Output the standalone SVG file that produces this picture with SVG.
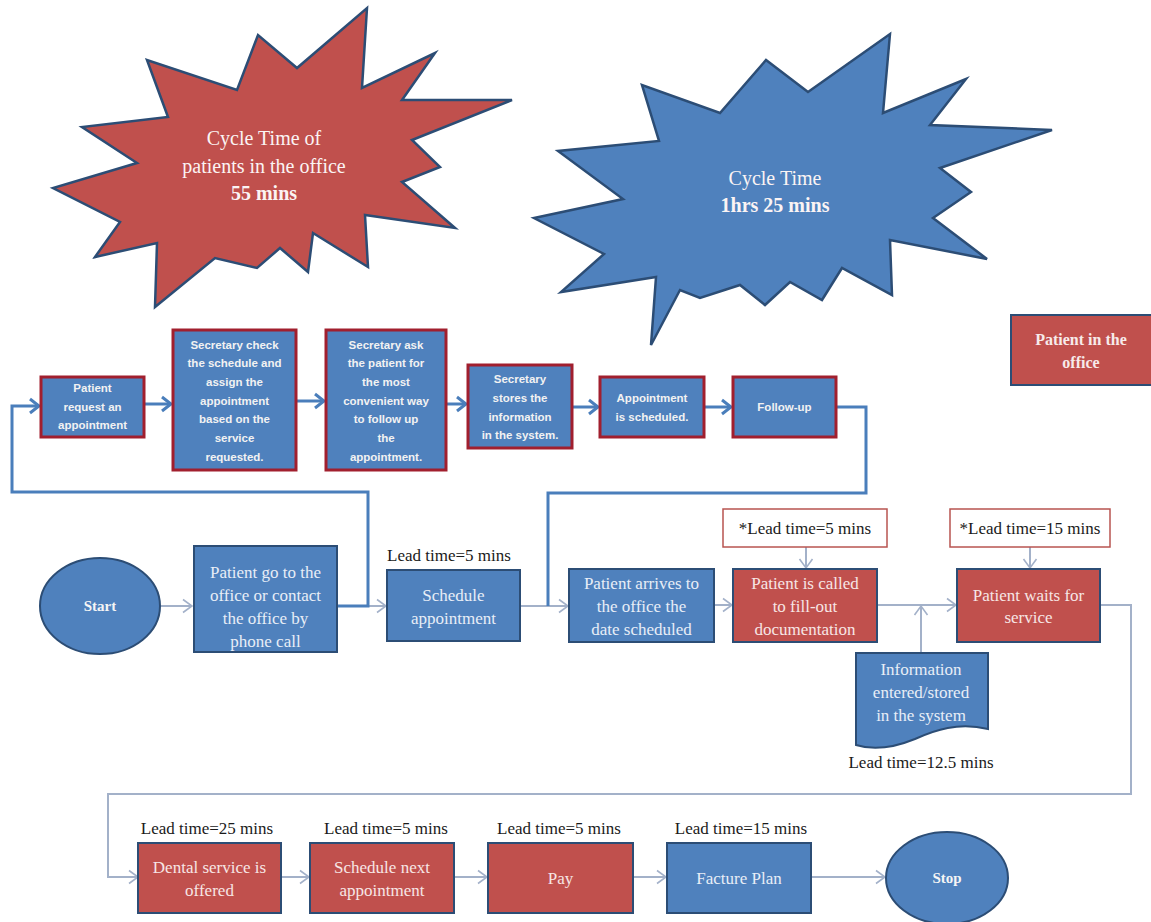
<svg xmlns="http://www.w3.org/2000/svg" width="1151" height="922" viewBox="0 0 1151 922">
<style>
.tb{fill:#4f81bd;stroke:#a11f2e;stroke-width:3}
.bb{fill:#4f81bd;stroke:#2c4d75;stroke-width:2}
.rb{fill:#c0504d;stroke:#2c4d75;stroke-width:2}
.lb{fill:#fff;stroke:#b85450;stroke-width:1.5}
.st{stroke:#2c4d75;stroke-width:2.5;stroke-linejoin:miter}
.t1{font-family:"Liberation Sans",Arial,sans-serif;font-weight:bold;font-size:11.5px;fill:#f2f2f2;text-anchor:middle}
.t2{font-family:"Liberation Serif","Times New Roman",serif;font-size:17px;fill:#e8eef7;text-anchor:middle}
.t2r{font-family:"Liberation Serif","Times New Roman",serif;font-size:17px;fill:#f7e6e5;text-anchor:middle}
.t3{font-family:"Liberation Serif","Times New Roman",serif;font-size:17px;fill:#1a1a1a;text-anchor:middle}
.t4{font-family:"Liberation Serif","Times New Roman",serif;font-size:20px;fill:#fbf4f4;text-anchor:middle}
.t5{font-family:"Liberation Serif","Times New Roman",serif;font-size:15px;font-weight:bold;fill:#f5f5f5;text-anchor:middle}
.t6{font-family:"Liberation Serif","Times New Roman",serif;font-size:16px;font-weight:bold;fill:#f7eaea;text-anchor:middle}
.cb{fill:none;stroke:#4a7ebb;stroke-width:3}
.cg{fill:none;stroke:#a3b1c9;stroke-width:2}
</style>
<defs>
<marker id="ab" markerUnits="userSpaceOnUse" markerWidth="14" markerHeight="18" refX="11" refY="9" orient="auto"><path d="M2,2 L11,9 L2,16" fill="none" stroke="#4a7ebb" stroke-width="3"/></marker>
<marker id="ag" markerUnits="userSpaceOnUse" markerWidth="12" markerHeight="16" refX="10" refY="8" orient="auto"><path d="M1,1.5 L10,8 L1,14.5" fill="none" stroke="#a3b1c9" stroke-width="1.6"/></marker>
</defs>
<rect width="1151" height="922" fill="#ffffff"/>

<g id="star-red">
<polygon class="st" fill="#c0504d" points="367,8 362,88 435,53 402,100 512,100 412,140 440,167 402,182 455,228 365,215 368,267 313,233 308,272 280,248 257,268 215,258 155,307 157,243 95,257 120,222 53,188 137,163 82,127 168,117 147,60 237,90 258,35 297,68"/>
<text class="t4" x="264" y="145">Cycle Time of</text>
<text class="t4" x="264" y="173">patients in the office</text>
<text class="t4" x="264" y="200" font-weight="bold">55 mins</text>
</g>

<g id="star-blue">
<polygon class="st" fill="#4f81bd" points="890,34 883,113 966,79 930,125 1052,130 940,168 971,192 933,218 987,259 890,240 892,295 842,268 822,300 790,282 765,305 740,285 700,298 680,290 651,345 656,277 561,292 604,254 534,218 623,199 558,151 659,141 642,85 720,113 766,60 808,92"/>
<text class="t4" x="775" y="185">Cycle Time</text>
<text class="t4" x="775" y="212" font-weight="bold">1hrs 25 mins</text>
</g>

<g id="patient-in-office">
<rect class="rb" x="1011" y="315" width="141" height="70"/>
<text class="t6" x="1081" y="345">Patient in the</text>
<text class="t6" x="1081" y="368">office</text>
</g>

<g id="connectors">
<path class="cb" d="M144,404 H171" marker-end="url(#ab)"/>
<path class="cb" d="M296,401 H324" marker-end="url(#ab)"/>
<path class="cb" d="M446,404 H466" marker-end="url(#ab)"/>
<path class="cb" d="M572,407 H598" marker-end="url(#ab)"/>
<path class="cb" d="M704,407 H731" marker-end="url(#ab)"/>
<path class="cg" d="M161,606 H192" marker-end="url(#ag)"/>
<path class="cg" d="M337,606 H386" marker-end="url(#ag)"/>
<path class="cg" d="M520,606 H568" marker-end="url(#ag)"/>
<path class="cg" d="M714,605 H732" marker-end="url(#ag)"/>
<path class="cg" d="M806,547 V568" marker-end="url(#ag)"/>
<path class="cg" d="M877,605 H956" marker-end="url(#ag)"/>
<path class="cg" d="M921,653 V606" marker-end="url(#ag)"/>
<path class="cg" d="M1030,547 V568" marker-end="url(#ag)"/>
<path class="cg" d="M1100,605 H1131 V794 H108 V877 H138" marker-end="url(#ag)"/>
<path class="cg" d="M281,877 H309" marker-end="url(#ag)"/>
<path class="cg" d="M454,877 H487" marker-end="url(#ag)"/>
<path class="cg" d="M633,877 H666" marker-end="url(#ag)"/>
<path class="cg" d="M811,877 H885" marker-end="url(#ag)"/>
<path class="cb" d="M337,606 H368 V492 H12 V406 H39" marker-end="url(#ab)"/>
<path class="cb" d="M836,407 H866 V493 H548 V606"/>
</g>

<g id="n-request">
<rect class="tb" x="41" y="377" width="103" height="60"/>
<text class="t1" x="92.5" y="392">Patient</text>
<text class="t1" x="92.5" y="411">request an</text>
<text class="t1" x="92.5" y="429">appointment</text>
</g>
<g id="n-check">
<rect class="tb" x="173" y="330" width="123" height="140"/>
<text class="t1" x="234.5" y="349">Secretary  check</text>
<text class="t1" x="234.5" y="367">the schedule and</text>
<text class="t1" x="234.5" y="386">assign the</text>
<text class="t1" x="234.5" y="405">appointment</text>
<text class="t1" x="234.5" y="423">based on the</text>
<text class="t1" x="234.5" y="442">service</text>
<text class="t1" x="234.5" y="461">requested.</text>
</g>
<g id="n-ask">
<rect class="tb" x="326" y="330" width="120" height="140"/>
<text class="t1" x="386" y="349">Secretary ask</text>
<text class="t1" x="386" y="367">the patient for</text>
<text class="t1" x="386" y="386">the most</text>
<text class="t1" x="386" y="405">convenient way</text>
<text class="t1" x="386" y="423">to follow up</text>
<text class="t1" x="386" y="442">the</text>
<text class="t1" x="386" y="461">appointment.</text>
</g>
<g id="n-stores">
<rect class="tb" x="468" y="365" width="104" height="83"/>
<text class="t1" x="520" y="383">Secretary</text>
<text class="t1" x="520" y="402">stores the</text>
<text class="t1" x="520" y="421">information</text>
<text class="t1" x="520" y="439">in the system.</text>
</g>
<g id="n-scheduled">
<rect class="tb" x="600" y="377" width="104" height="60"/>
<text class="t1" x="652" y="402">Appointment</text>
<text class="t1" x="652" y="421">is scheduled.</text>
</g>
<g id="n-followup">
<rect class="tb" x="733" y="377" width="103" height="60"/>
<text class="t1" x="784.5" y="411">Follow-up</text>
</g>

<g id="n-start">
<ellipse class="bb" cx="100" cy="606" rx="60" ry="48"/>
<text class="t5" x="100" y="611">Start</text>
</g>
<g id="n-goto">
<rect class="bb" x="194" y="546" width="143" height="106"/>
<text class="t2" x="265.5" y="578">Patient  go to the</text>
<text class="t2" x="265.5" y="601">office or contact</text>
<text class="t2" x="265.5" y="624">the office by</text>
<text class="t2" x="265.5" y="647">phone call</text>
</g>
<g id="n-schedule">
<text class="t3" x="449" y="561">Lead time=5 mins</text>
<rect class="bb" x="387" y="570" width="133" height="71"/>
<text class="t2" x="453.5" y="601">Schedule</text>
<text class="t2" x="453.5" y="624">appointment</text>
</g>
<g id="n-arrives">
<rect class="bb" x="569" y="569" width="145" height="73"/>
<text class="t2" x="641.5" y="589">Patient arrives to</text>
<text class="t2" x="641.5" y="612">the office the</text>
<text class="t2" x="641.5" y="635">date scheduled</text>
</g>
<g id="n-lead5">
<rect class="lb" x="723" y="509" width="164" height="38"/>
<text class="t3" x="805" y="534">*Lead time=5 mins</text>
</g>
<g id="n-called">
<rect class="rb" x="733" y="569" width="144" height="73"/>
<text class="t2r" x="805" y="589">Patient is called</text>
<text class="t2r" x="805" y="612">to fill-out</text>
<text class="t2r" x="805" y="635">documentation</text>
</g>
<g id="n-info">
<path class="bb" d="M856,653 H988 V729 C958,722 935,730 915,739 C893,748 872,750 856,745 Z"/>
<text class="t2" x="921" y="675">Information</text>
<text class="t2" x="921" y="698">entered/stored</text>
<text class="t2" x="921" y="721">in the system</text>
<text class="t3" x="921" y="768">Lead time=12.5 mins</text>
</g>
<g id="n-lead15">
<rect class="lb" x="950" y="509" width="160" height="38"/>
<text class="t3" x="1030" y="534">*Lead time=15 mins</text>
</g>
<g id="n-waits">
<rect class="rb" x="957" y="569" width="143" height="73"/>
<text class="t2r" x="1028.5" y="601">Patient waits for</text>
<text class="t2r" x="1028.5" y="623">service</text>
</g>

<g id="n-dental">
<text class="t3" x="207" y="834">Lead time=25 mins</text>
<rect class="rb" x="138" y="843" width="143" height="70"/>
<text class="t2r" x="209.5" y="873">Dental service is</text>
<text class="t2r" x="209.5" y="896">offered</text>
</g>
<g id="n-next">
<text class="t3" x="386" y="834">Lead time=5 mins</text>
<rect class="rb" x="310" y="843" width="144" height="70"/>
<text class="t2r" x="382" y="873">Schedule next</text>
<text class="t2r" x="382" y="896">appointment</text>
</g>
<g id="n-pay">
<text class="t3" x="559" y="834">Lead time=5 mins</text>
<rect class="rb" x="488" y="843" width="145" height="70"/>
<text class="t2r" x="560.5" y="884">Pay</text>
</g>
<g id="n-facture">
<text class="t3" x="741" y="834">Lead time=15 mins</text>
<rect class="bb" x="667" y="843" width="144" height="70"/>
<text class="t2" x="739" y="884">Facture Plan</text>
</g>
<g id="n-stop">
<ellipse class="bb" cx="947" cy="878" rx="61" ry="46"/>
<text class="t5" x="947" y="883">Stop</text>
</g>
</svg>
